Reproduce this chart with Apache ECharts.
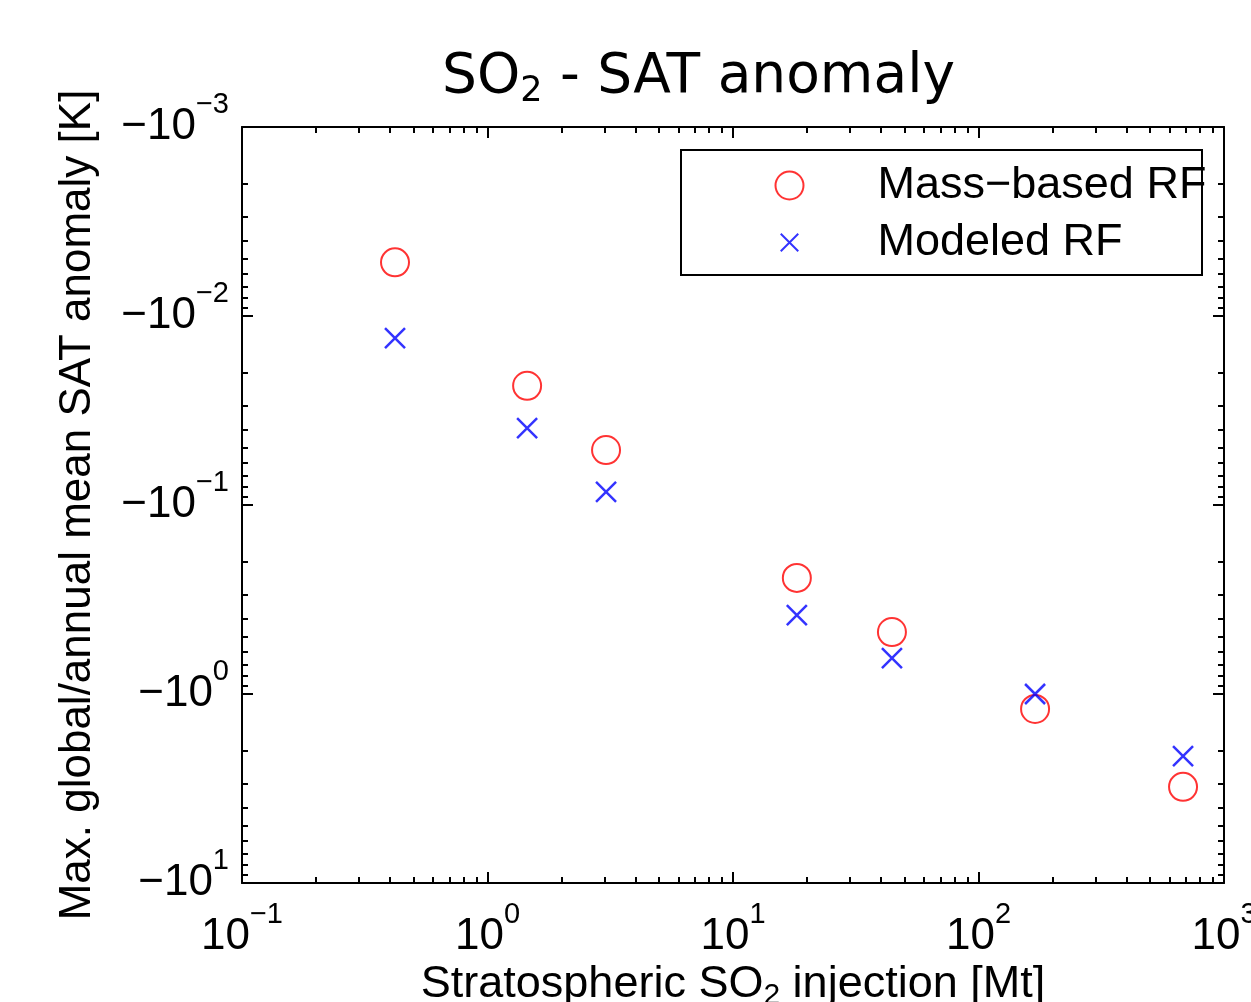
<!DOCTYPE html>
<html lang="en">
<head>
    <meta charset="UTF-8">
    <title>SO2 - SAT anomaly</title>
    <script src="https://cdn.jsdelivr.net/npm/echarts@6/dist/echarts.min.js"></script>
    <style>
        html, body { margin: 0; padding: 0; background: #fff; }
    </style>
</head>
<body>
    <div id="main" style="width:1251px;height:1002px;"></div>
    <script>
        // injection [Mt] and magnitude of the (negative) SAT anomaly [K]
        let injection = [0.42, 1.45, 3.04, 18.2, 44.4, 170, 681];
        let massBased = [0.0052, 0.0234, 0.0512, 0.243, 0.470, 1.20, 3.10];
        let modeled = [0.0131, 0.0392, 0.0853, 0.382, 0.646, 1.00, 2.13];
        let xDecades = [0.1, 1, 10, 100, 1000];
        let yDecades = [0.001, 0.01, 0.1, 1, 10];
        let seriesNames = ['Mass\u2212based RF', 'Modeled RF'];

        function minorOf(decades) {
            let out = [];
            for (let i = 0; i < decades.length - 1; i++) {
                for (let k = 2; k <= 9; k++) out.push(Math.log10(decades[i] * k));
            }
            return out;
        }
        let xMinor = minorOf(xDecades);
        let yMinor = minorOf(yDecades);

        function expOf(v) {
            let e = Math.round(Math.log10(v));
            return e < 0 ? '\u2212' + (-e) : '' + e;
        }

        let sup = { fontSize: 29, fontFamily: 'Liberation Sans', color: '#000', verticalAlign: 'top', lineHeight: 28 };
        let base = { fontSize: 44, fontFamily: 'Liberation Sans', color: '#000', lineHeight: 74 };

        let crossPath = 'path://M-3,-3M0,0L10,10M10,0L0,10M13,13';

        function majorAxis(pos, extra) {
            return Object.assign({
                type: 'log',
                logBase: 10,
                position: pos,
                axisLine: { show: true, onZero: false, lineStyle: { color: '#000', width: 2 } },
                axisTick: { show: true, inside: true, length: 11, lineStyle: { color: '#000', width: 2 } },
                splitLine: { show: false },
                minorTick: { show: false }
            }, extra);
        }
        function minorAxis(pos, min, max, vals, inverse) {
            return {
                type: 'value',
                position: pos,
                min: min,
                max: max,
                inverse: !!inverse,
                axisLine: { show: false, onZero: false },
                axisLabel: { show: false },
                splitLine: { show: false },
                axisTick: { show: true, inside: true, length: 6, customValues: vals, lineStyle: { color: '#000', width: 2 } }
            };
        }

        let chart = echarts.init(document.getElementById('main'));
        chart.setOption({
            animation: false,
            backgroundColor: '#fff',
            title: {
                text: '{a|SO}{s|2}{a| - SAT anomaly}',
                left: 437,
                top: 42,
                textStyle: {
                    fontWeight: 'normal',
                    rich: {
                        a: { fontSize: 55, fontFamily: 'DejaVu Sans', fontWeight: 'normal', color: '#000', lineHeight: 62 },
                        s: { fontSize: 35, fontFamily: 'DejaVu Sans', fontWeight: 'normal', color: '#000', verticalAlign: 'bottom', lineHeight: 62, padding: [26, 0, 0, 0] }
                    }
                }
            },
            grid: { left: 242, right: 27, top: 127, bottom: 119, outerBoundsMode: 'none', containLabel: false },
            legend: {
                orient: 'vertical',
                left: 768,
                top: 158,
                itemWidth: 28,
                itemHeight: 28,
                itemGap: 12,
                data: seriesNames,
                textStyle: { fontSize: 45, fontFamily: 'Liberation Sans', color: '#000', padding: [0, 0, 0, 69] }
            },
            graphic: [{
                type: 'rect',
                z: 100,
                shape: { x: 681, y: 150, width: 521, height: 125 },
                style: { fill: 'none', stroke: '#000', lineWidth: 2 }
            }],
            xAxis: [
                majorAxis('bottom', {
                    min: xDecades[0], max: xDecades[xDecades.length - 1],
                    name: '{a|Stratospheric SO}{s|2}{a| injection [Mt]}',
                    nameLocation: 'middle',
                    nameMoveOverlap: false,
                    nameGap: 76,
                    nameTextStyle: {
                        rich: {
                            a: { fontSize: 45, fontFamily: 'Liberation Sans', color: '#000', lineHeight: 52 },
                            s: { fontSize: 30, fontFamily: 'Liberation Sans', color: '#000', verticalAlign: 'bottom', lineHeight: 52, padding: [24, 0, 0, 0] }
                        }
                    },
                    axisLabel: {
                        margin: 17,
                        formatter: function (v) { return '{b|10}{s|' + expOf(v) + '}'; },
                        rich: { b: base, s: sup }
                    }
                }),
                majorAxis('top', {
                    min: xDecades[0], max: xDecades[xDecades.length - 1],
                    axisLabel: { show: false }
                }),
                minorAxis('bottom', -1, 3, xMinor),
                minorAxis('top', -1, 3, xMinor)
            ],
            yAxis: [
                majorAxis('left', {
                    min: yDecades[0], max: yDecades[yDecades.length - 1],
                    inverse: true,
                    name: 'Max. global/annual mean SAT anomaly [K]',
                    nameLocation: 'middle',
                    nameMoveOverlap: false,
                    nameGap: 142,
                    nameTextStyle: { fontSize: 44, fontFamily: 'Liberation Sans', color: '#000' },
                    axisLabel: {
                        margin: 13,
                        formatter: function (v) { return '{b|\u221210}{s|' + expOf(v) + '}'; },
                        rich: { b: base, s: sup }
                    }
                }),
                majorAxis('right', {
                    min: yDecades[0], max: yDecades[yDecades.length - 1],
                    inverse: true,
                    axisLabel: { show: false }
                }),
                minorAxis('left', -3, 1, yMinor, true),
                minorAxis('right', -3, 1, yMinor, true)
            ],
            series: [{
                name: seriesNames[0],
                type: 'scatter',
                xAxisIndex: 0,
                yAxisIndex: 0,
                symbol: 'emptyCircle',
                symbolSize: 28,
                itemStyle: { color: '#ff0000', borderColor: '#ff0000', borderWidth: 2.2 },
                data: injection.map(function (x, i) { return [x, massBased[i]]; })
            }, {
                name: seriesNames[1],
                type: 'scatter',
                xAxisIndex: 0,
                yAxisIndex: 0,
                symbol: crossPath,
                symbolSize: 32,
                itemStyle: { color: 'none', borderColor: '#0000ff', borderWidth: 2.5 },
                data: injection.map(function (x, i) { return [x, modeled[i]]; })
            }]
        });
    </script>
</body>
</html>
